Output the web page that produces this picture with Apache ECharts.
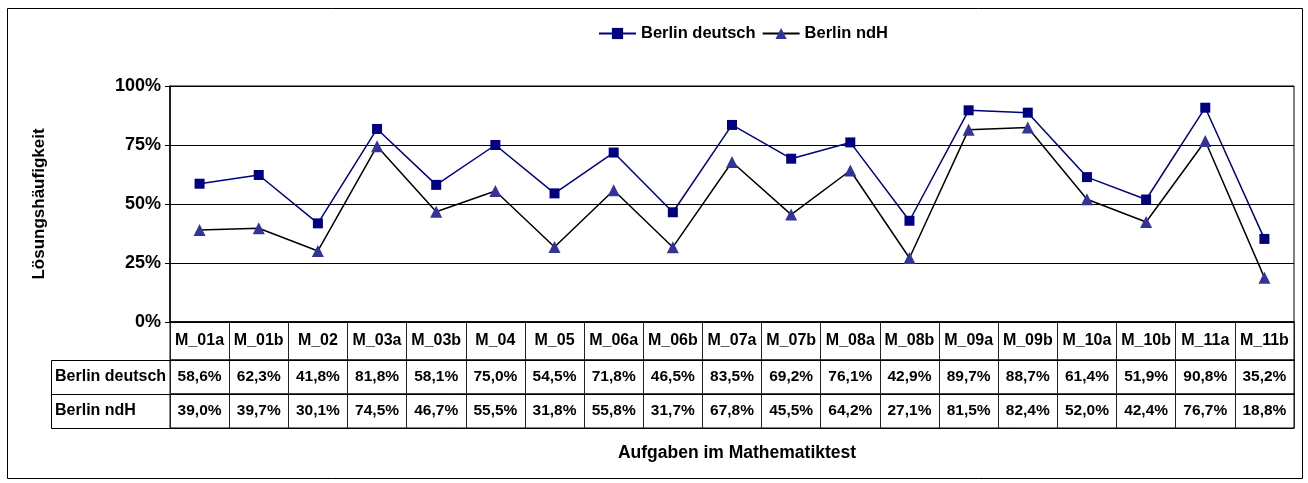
<!DOCTYPE html>
<html>
<head>
<meta charset="utf-8">
<script src="https://cdn.jsdelivr.net/npm/echarts@6/dist/echarts.min.js"></script>
<style>
html,body{margin:0;padding:0;background:#fff;}
#chart{width:1308px;height:483px;}
</style>
</head>
<body>
<div id="chart"></div>
<script>
const categories = ['M_01a','M_01b','M_02','M_03a','M_03b','M_04','M_05','M_06a','M_06b','M_07a','M_07b','M_08a','M_08b','M_09a','M_09b','M_10a','M_10b','M_11a','M_11b'];
const berlinDeutsch = [58.6,62.3,41.8,81.8,58.1,75.0,54.5,71.8,46.5,83.5,69.2,76.1,42.9,89.7,88.7,61.4,51.9,90.8,35.2];
const berlinNdH = [39.0,39.7,30.1,74.5,46.7,55.5,31.8,55.8,31.7,67.8,45.5,64.2,27.1,81.5,82.4,52.0,42.4,76.7,18.8];
const yTicks = [0,25,50,75,100];
const seriesNames = ['Berlin deutsch','Berlin ndH'];
const yAxisTitle = 'Lösungshäufigkeit';
const xAxisTitle = 'Aufgaben im Mathematiktest';

const FONT = '"Liberation Sans", Arial, sans-serif';
const fmt = v => v.toFixed(1).replace('.', ',') + '%';

// layout
const W = 1308, H = 483;
const plotLeft = 170, plotRight = 1294, plotTop = 86, plotBottom = 322;
const headerH = 38, rowH = 34;
const labelLeft = 51;
const row1Top = plotBottom + headerH, row2Top = row1Top + rowH, tableBottom = row2Top + rowH;

const chart = echarts.init(document.getElementById('chart'), null, {renderer:'canvas'});

function tableGrid(top, h){
  return {left: plotLeft, right: W - plotRight, top: top, height: h, show: true,
    borderColor: '#000', borderWidth: 1, backgroundColor: 'transparent', outerBoundsMode: 'none', containLabel: false};
}
function tableXAxis(gridIndex, data, h, size){
  return {type:'category', gridIndex: gridIndex, data: data, boundaryGap: true, position:'bottom',
    axisLine:{show:true, lineStyle:{color:'#000', width:1}}, axisTick:{show:false},
    splitLine:{show:true, interval:0, lineStyle:{color:'#222', width:1}},
    axisLabel:{show:true, interval:0, margin: -h/2, verticalAlign:'middle', color:'#000',
      fontFamily: FONT, fontWeight:'bold', fontSize: size}};
}
function tableYAxis(gridIndex, label){
  return {type:'category', gridIndex: gridIndex, data: label ? [label] : [''],
    axisLine:{show:false}, axisTick:{show:false}, splitLine:{show:false},
    axisLabel:{show: !!label, align:'left', margin: plotLeft - labelLeft - 4, color:'#000',
      fontFamily: FONT, fontWeight:'bold', fontSize: 16}};
}

const option = {
  animation: false,
  backgroundColor: '#fff',
  title: [{
    text: xAxisTitle, left: (plotLeft + plotRight)/2, top: tableBottom + 11, textAlign: 'center',
    textStyle: {fontFamily: FONT, fontWeight: 'bold', fontSize: 17.5, color: '#000'}
  }],
  legend: {
    data: seriesNames, left: 593, top: 20, itemWidth: 37, itemHeight: 14, itemGap: 6,
    textStyle: {fontFamily: FONT, fontWeight: 'bold', fontSize: 16.5, color: '#000'}
  },
  grid: [
    {left: plotLeft, right: W - plotRight, top: plotTop, bottom: H - plotBottom, show: true,
      borderColor: '#000', borderWidth: 1, outerBoundsMode: 'none', containLabel: false},
    tableGrid(plotBottom, headerH),
    tableGrid(row1Top, rowH),
    tableGrid(row2Top, rowH)
  ],
  xAxis: [
    {type:'category', gridIndex:0, data: categories, boundaryGap: true,
      axisLine:{show:true, lineStyle:{color:'#000', width:1.5}}, axisTick:{show:false},
      axisLabel:{show:false}, splitLine:{show:false}},
    tableXAxis(1, categories, headerH, 16),
    tableXAxis(2, berlinDeutsch.map(fmt), rowH, 15.5),
    tableXAxis(3, berlinNdH.map(fmt), rowH, 15.5)
  ],
  yAxis: [
    {type:'value', gridIndex:0, min: yTicks[0], max: yTicks[yTicks.length-1], interval: 25,
      name: yAxisTitle, nameLocation:'middle', nameGap: 122, nameRotate: 90,
      nameTextStyle:{fontFamily: FONT, fontWeight:'bold', fontSize: 17, color:'#000'},
      axisLine:{show:true, lineStyle:{color:'#000', width:1.5}},
      axisTick:{show:true, length:5, lineStyle:{color:'#000'}},
      splitLine:{show:true, lineStyle:{color:'#000', width:1}},
      axisLabel:{formatter: v => v + '%', margin: 9, color:'#000', fontFamily: FONT,
        fontWeight:'bold', fontSize: 18}},
    tableYAxis(1, ''),
    tableYAxis(2, seriesNames[0]),
    tableYAxis(3, seriesNames[1])
  ],
  graphic: [
    {type:'rect', shape:{x:7.5, y:8.5, width:1295, height:470}, style:{fill:'none', stroke:'#000', lineWidth:1}, silent:true, z:-1},
    {type:'rect', shape:{x:labelLeft + 0.5, y:row1Top + 0.5, width: plotLeft - labelLeft, height: rowH}, style:{fill:'none', stroke:'#000', lineWidth:1}, silent:true},
    {type:'rect', shape:{x:labelLeft + 0.5, y:row2Top + 0.5, width: plotLeft - labelLeft, height: rowH}, style:{fill:'none', stroke:'#000', lineWidth:1}, silent:true}
  ],
  series: [
    {name: seriesNames[0], type:'line', xAxisIndex:0, yAxisIndex:0, data: berlinDeutsch,
      symbol:'rect', symbolSize: 10,
      itemStyle:{color:'#000080'}, lineStyle:{color:'#000080', width:1.5}},
    {name: seriesNames[1], type:'line', xAxisIndex:0, yAxisIndex:0, data: berlinNdH,
      symbol:'triangle', symbolSize: 12,
      itemStyle:{color:'#333399'}, lineStyle:{color:'#000', width:1.5}}
  ]
};
chart.setOption(option);
</script>
</body>
</html>
